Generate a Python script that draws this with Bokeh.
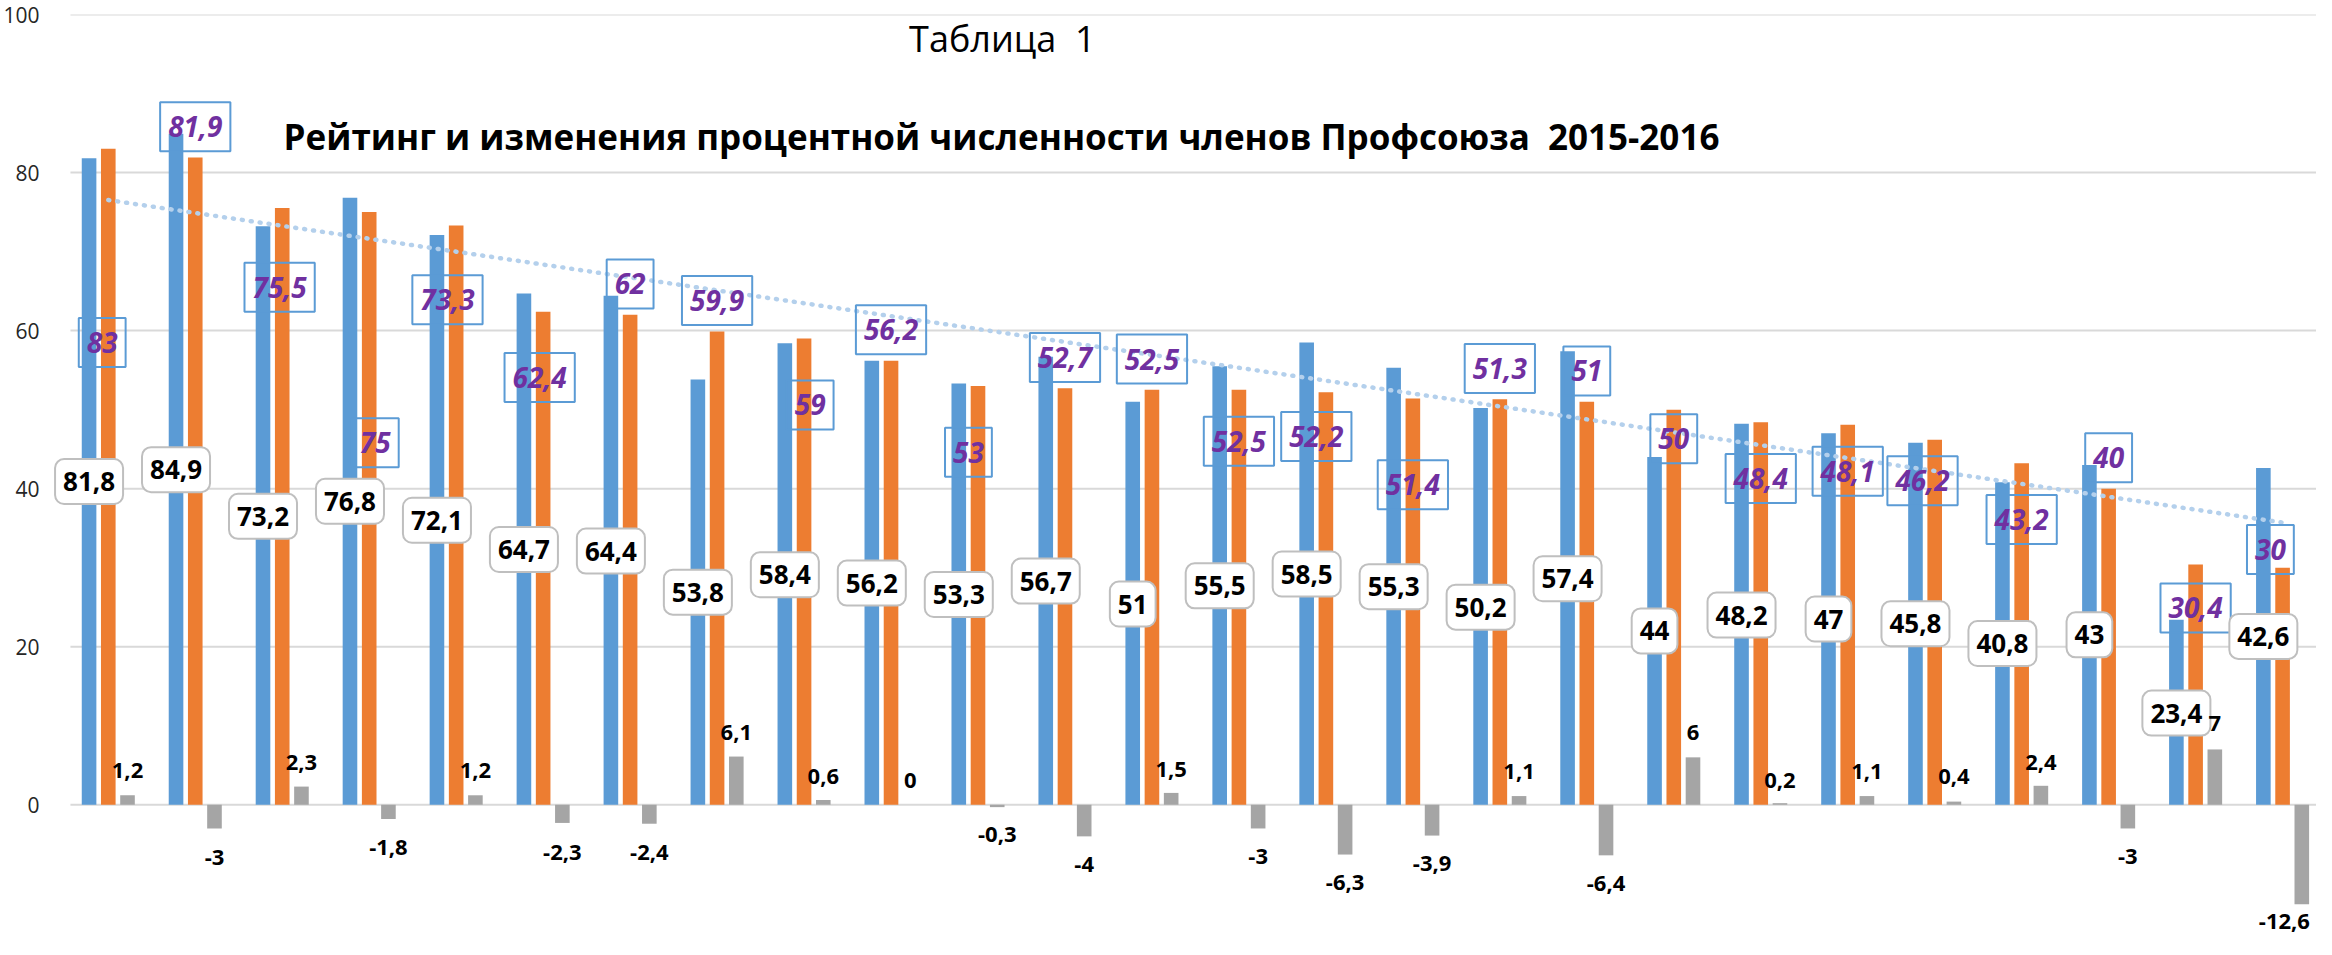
import numpy as np
from bokeh.plotting import figure
from bokeh.models import FixedTicker, Label, Range1d
from bokeh.core.properties import value
from bokeh.embed import file_html
from bokeh.resources import INLINE

# ---------------- data ----------------
categories = list(range(1, 27))
v2015 = [81.8, 84.9, 73.2, 76.8, 72.1, 64.7, 64.4, 53.8, 58.4, 56.2, 53.3, 56.7, 51,
         55.5, 58.5, 55.3, 50.2, 57.4, 44, 48.2, 47, 45.8, 40.8, 43, 23.4, 42.6]
v2016 = [83, 81.9, 75.5, 75, 73.3, 62.4, 62, 59.9, 59, 56.2, 53, 52.7, 52.5,
         52.5, 52.2, 51.4, 51.3, 51, 50, 48.4, 48.1, 46.2, 43.2, 40, 30.4, 30]
change = [1.2, -3, 2.3, -1.8, 1.2, -2.3, -2.4, 6.1, 0.6, 0, -0.3, -4, 1.5,
          -3, -6.3, -3.9, 1.1, -6.4, 6, 0.2, 1.1, 0.4, 2.4, -3, 7, -12.6]
y_ticks = [0, 20, 40, 60, 80, 100]
title_small = "Таблица\u00a0 1"
title_main = "Рейтинг и изменения процентной численности членов Профсоюза\u00a0 2015-2016"

# ---------------- label placement (layout, not data) ----------------
blue_label_y = [40.9, 42.4, 36.5, 38.4, 36.0, 32.3, 32.1, 26.9, 29.1, 28.05, 26.6, 28.3, 25.4,
                27.7, 29.2, 27.6, 25.0, 28.6, 22.0, 24.0, 23.5, 22.9, 20.4, 21.5, 11.6, 21.3]
orange_label_y = [58.5, 85.8, 65.5, 45.8, 63.9, 54.05, 65.9, 63.8, 50.6, 60.1, 44.6, 56.6, 56.4,
                  46.0, 46.6, 40.5, 55.2, 54.9, 46.3, 41.3, 42.2, 41.0, 36.1, 43.9, 24.9, 32.3]
orange_label_dx = [-0.07, 0, -0.03, 0.07, -0.1, -0.04, 0, 0, 0.07, 0, -0.11, 0, 0,
                   0, -0.11, 0, 0, 0, 0, 0, 0, -0.14, 0, 0, 0, -0.14]
gray_label_y = [4.3, -6.7, 5.4, -5.4, 4.3, -6.1, -6.1, 9.1, 3.6, 3.1, -3.8, -7.5, 4.5,
                -6.5, -9.8, -7.4, 4.2, -10.0, 9.1, 3.1, 4.2, 3.6, 5.4, -6.5, 10.3, -14.8]
gray_label_dx = [0] * 25 + [-0.2]

BLUE = "#5B9BD5"
ORANGE = "#ED7D31"
GRAY = "#A5A5A5"
PURPLE = "#7030A0"
FONT = "Open Sans"

OFF = 0.221
BW = 0.168
X_START, X_END = 0.3126, 26.39
GRID_START = 0.565


def fmt(v):
    return f"{v:g}".replace(".", ",")


p = figure(width=2316, height=939,
           x_range=Range1d(X_START, X_END), y_range=Range1d(-17.05, 100),
           output_backend="svg", toolbar_location=None,
           x_axis_location=None,
           min_border_left=40, min_border_right=0, min_border_top=14, min_border_bottom=0)
p.outline_line_color = None
p.background_fill_color = "white"
p.border_fill_color = "white"
p.xgrid.visible = False
p.ygrid.visible = False
p.yaxis.ticker = FixedTicker(ticks=y_ticks)
p.yaxis.axis_line_color = None
p.yaxis.major_tick_line_color = None
p.yaxis.minor_tick_line_color = None
p.yaxis.major_label_text_font = FONT
p.yaxis.major_label_text_font_size = "21px"
p.yaxis.major_label_text_color = "#262626"
p.yaxis.major_label_standoff = 3

# horizontal gridlines (start where the category band starts)
p.segment(x0=[GRID_START] * len(y_ticks), x1=[X_END + 1] * len(y_ticks),
          y0=y_ticks, y1=y_ticks, line_color="#D9D9D9", line_width=2)

xb = [c - OFF for c in categories]
xo = list(categories)
xg = [c + OFF for c in categories]

p.vbar(x=xb, top=v2015, bottom=0, width=BW, fill_color=BLUE, line_color=None)
p.vbar(x=xo, top=v2016, bottom=0, width=BW, fill_color=ORANGE, line_color=None)
p.vbar(x=xg, top=change, bottom=0, width=BW, fill_color=GRAY, line_color=None)

# linear trend of the 2015 series
coef = np.polyfit(categories, v2015, 1)
trend = np.polyval(coef, categories)
p.line(categories, trend, line_color="#B4D0EC", line_width=4.5, line_dash="1 8", line_cap="round")

# orange (2016) labels
p.text(x=[x + d for x, d in zip(xo, orange_label_dx)], y=orange_label_y,
       text=[fmt(v) for v in v2016],
       text_align="center", text_baseline="middle",
       text_font=value(FONT), text_font_style="bold italic", text_font_size="28px",
       text_color=PURPLE,
       border_line_color=BLUE, border_line_width=2,
       padding=(8, 14))

# blue (2015) labels
p.text(x=xb, y=blue_label_y, text=[fmt(v) for v in v2015],
       text_align="center", text_baseline="middle",
       text_font=value(FONT), text_font_style="bold", text_font_size="26px",
       text_color="black",
       background_fill_color="white",
       border_line_color="#BFBFBF", border_line_width=2, border_radius=9,
       padding=(8, 13))

# change labels
p.text(x=[x + d for x, d in zip(xg, gray_label_dx)], y=gray_label_y,
       text=[fmt(v) for v in change],
       text_align="center", text_baseline="middle",
       text_font=value(FONT), text_font_style="bold", text_font_size="22px",
       text_color="black")

p.add_layout(Label(x=11.28, y=96.9, text=title_small, text_align="center",
                   text_baseline="alphabetic", text_font=FONT, text_font_size="36px",
                   text_color="black"))
p.add_layout(Label(x=11.27, y=84.56, text=title_main, text_align="center",
                   text_baseline="alphabetic", text_font=FONT, text_font_style="bold",
                   text_font_size="35px", text_color="black"))

open("out.html", "w").write(file_html(p, INLINE))
